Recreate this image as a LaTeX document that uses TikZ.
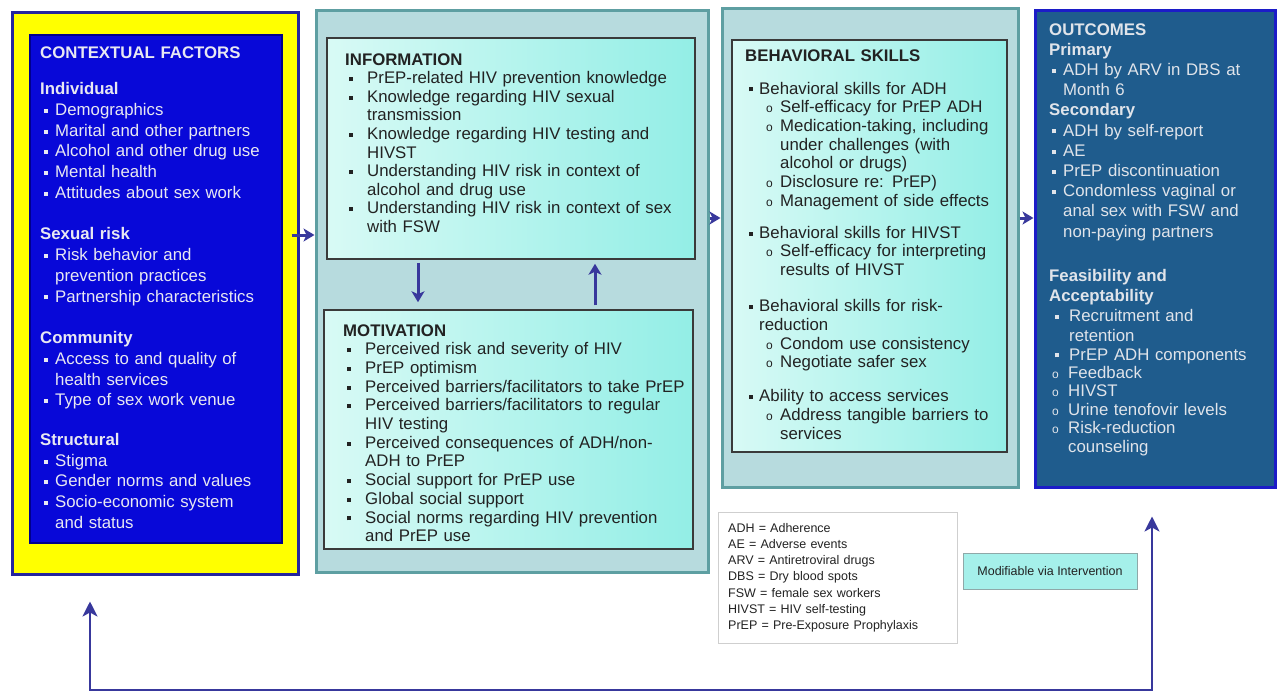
\documentclass[tikz,border=0pt]{standalone}
\usepackage{fontspec}
\setmainfont{Liberation Sans}
\usetikzlibrary{arrows.meta}
\definecolor{ybox}{HTML}{FFFF00}
\definecolor{navy}{HTML}{24249E}
\definecolor{navyin}{HTML}{00008C}
\definecolor{bluein}{HTML}{0808D8}
\definecolor{panel}{HTML}{B7DBDE}
\definecolor{panelb}{HTML}{5E9FA2}
\definecolor{cyanL}{HTML}{D8FAF5}
\definecolor{cyanR}{HTML}{93EEE6}
\definecolor{innerb}{HTML}{3A3A3A}
\definecolor{outf}{HTML}{1F5C8D}
\definecolor{outb}{HTML}{1C1CC8}
\definecolor{arrc}{HTML}{38389C}
\definecolor{ltext}{HTML}{E8E8F2}
\definecolor{otext}{HTML}{E0E4EA}
\definecolor{dtext}{HTML}{222222}
\definecolor{legb}{HTML}{CFCFCF}
\definecolor{modf}{HTML}{A5F0EA}
\definecolor{modb}{HTML}{8FA8A8}
\newcommand{\sqb}{\raisebox{2.6pt}{\rule{4pt}{4pt}}}
\newcommand{\cib}{{\fontsize{12}{12}\selectfont o}}
\newcommand{\li}[4]{\par\hangindent=#2\hangafter=1\noindent\makebox[#2][l]{\hspace*{#1}#3}\ignorespaces#4}
\newcommand{\hd}[1]{\par\noindent\textbf{#1}}
\newcommand{\gp}[1]{\par\vspace{#1}}
\tikzset{
  box/.style={rectangle, inner sep=0pt},
  ctxout/.style={box, draw=navy, line width=3pt, fill=ybox},
  ctxin/.style={box, draw=navyin, line width=1.2pt, fill=bluein},
  panelbox/.style={box, draw=panelb, line width=3pt, fill=panel},
  innerbox/.style={box, draw=innerb, line width=1.5pt, left color=cyanL, right color=cyanR},
  outbox/.style={box, draw=outb, line width=3pt, fill=outf},
  legbox/.style={box, draw=legb, line width=0.8pt, fill=white},
  modbox/.style={box, draw=modb, line width=1pt, fill=modf},
  txt/.style={anchor=base west, inner sep=0pt, text width=420pt, align=left},
  arr/.style={draw=arrc, line width=3pt, -{Stealth[length=11pt,width=13pt,inset=3pt]}},
  fb/.style={draw=arrc, line width=2.5pt, {Stealth[length=15pt,width=15pt,inset=4pt]}-{Stealth[length=15pt,width=15pt,inset=4pt]}}
}
\begin{document}
\begin{tikzpicture}[x=1pt,y=-1pt]
\useasboundingbox[fill=white] (0,0) rectangle (1278,694);
% boxes
\node[ctxout, minimum width=286pt, minimum height=562pt] (ctx) at (155,293) {};
\node[ctxin, minimum width=252pt, minimum height=508pt] (ctxi) at (156,289) {};
\node[panelbox, minimum width=392pt, minimum height=562pt] (mid) at (512,291) {};
\node[innerbox, minimum width=368pt, minimum height=221pt] (info) at (511,148.5) {};
\node[innerbox, minimum width=369pt, minimum height=239pt] (moti) at (508.5,429.5) {};
\node[panelbox, minimum width=296pt, minimum height=479pt] (beh) at (870,247.5) {};
\node[innerbox, minimum width=275pt, minimum height=412pt] (behi) at (869.5,246) {};
\node[outbox, minimum width=240pt, minimum height=477pt] (out) at (1155,248.5) {};
\node[legbox, minimum width=239pt, minimum height=131pt] (leg) at (837.5,577.5) {};
\node[modbox, minimum width=174pt, minimum height=36pt, text=dtext, font=\fontsize{12.5}{14}\selectfont] (mod) at (1050,571) {Modifiable via Intervention};

% texts
\node[txt, text=ltext, font=\fontsize{16.8}{20.7}\selectfont] (ctxt) at (40,58) {%
\textbf{CONTEXTUAL FACTORS}\gp{16pt}
\hd{Individual}
\li{4pt}{15pt}{\sqb}{Demographics}
\li{4pt}{15pt}{\sqb}{Marital and other partners}
\li{4pt}{15pt}{\sqb}{Alcohol and other drug use}
\li{4pt}{15pt}{\sqb}{Mental health}
\li{4pt}{15pt}{\sqb}{Attitudes about sex work}\gp{21pt}
\hd{Sexual risk}
\li{4pt}{15pt}{\sqb}{Risk behavior and\newline prevention practices}
\li{4pt}{15pt}{\sqb}{Partnership characteristics}\gp{21pt}
\hd{Community}
\li{4pt}{15pt}{\sqb}{Access to and quality of\newline health services}
\li{4pt}{15pt}{\sqb}{Type of sex work venue}\gp{19pt}
\hd{Structural}
\li{4pt}{15pt}{\sqb}{Stigma}
\li{4pt}{15pt}{\sqb}{Gender norms and values}
\li{4pt}{15pt}{\sqb}{Socio-economic system\newline and status}\par};

\node[txt, text=dtext, font=\fontsize{16.8}{18.6}\selectfont] (infot) at (345,65) {%
\textbf{INFORMATION}
\li{4pt}{22pt}{\sqb}{PrEP-related HIV prevention knowledge}
\li{4pt}{22pt}{\sqb}{Knowledge regarding HIV sexual\newline transmission}
\li{4pt}{22pt}{\sqb}{Knowledge regarding HIV testing and\newline HIVST}
\li{4pt}{22pt}{\sqb}{Understanding HIV risk in context of\newline alcohol and drug use}
\li{4pt}{22pt}{\sqb}{Understanding HIV risk in context of sex\newline with FSW}\par};

\node[txt, text=dtext, font=\fontsize{16.8}{18.7}\selectfont] (motit) at (343,336) {%
\textbf{MOTIVATION}
\li{4pt}{22pt}{\sqb}{Perceived risk and severity of HIV}
\li{4pt}{22pt}{\sqb}{PrEP optimism}
\li{4pt}{22pt}{\sqb}{Perceived barriers/facilitators to take PrEP}
\li{4pt}{22pt}{\sqb}{Perceived barriers/facilitators to regular\newline HIV testing}
\li{4pt}{22pt}{\sqb}{Perceived consequences of ADH/non-\newline ADH to PrEP}
\li{4pt}{22pt}{\sqb}{Social support for PrEP use}
\li{4pt}{22pt}{\sqb}{Global social support}
\li{4pt}{22pt}{\sqb}{Social norms regarding HIV prevention\newline and PrEP use}\par};

\node[txt, text=dtext, font=\fontsize{16.8}{18.7}\selectfont] (beht) at (745,61) {%
\textbf{BEHAVIORAL SKILLS}\gp{14.3pt}
\li{4pt}{14pt}{\sqb}{Behavioral skills for ADH}
\li{21pt}{35pt}{\cib}{Self-efficacy for PrEP ADH}
\li{21pt}{35pt}{\cib}{Medication-taking, including\newline under challenges (with\newline alcohol or drugs)}
\li{21pt}{35pt}{\cib}{Disclosure re: PrEP)}
\li{21pt}{35pt}{\cib}{Management of side effects}\gp{13.3pt}
\li{4pt}{14pt}{\sqb}{Behavioral skills for HIVST}
\li{21pt}{35pt}{\cib}{Self-efficacy for interpreting\newline results of HIVST}\gp{17.3pt}
\li{4pt}{14pt}{\sqb}{Behavioral skills for risk-\newline reduction}
\li{21pt}{35pt}{\cib}{Condom use consistency}
\li{21pt}{35pt}{\cib}{Negotiate safer sex}\gp{15.3pt}
\li{4pt}{14pt}{\sqb}{Ability to access services}
\li{21pt}{35pt}{\cib}{Address tangible barriers to\newline services}\par};

\node[txt, text=otext, font=\fontsize{16.8}{20.2}\selectfont] (outt) at (1049,35) {%
\textbf{OUTCOMES}
\hd{Primary}
\li{3pt}{14pt}{\sqb}{ADH by ARV in DBS at\newline Month 6}
\hd{Secondary}
\li{3pt}{14pt}{\sqb}{ADH by self-report}
\li{3pt}{14pt}{\sqb}{AE}
\li{3pt}{14pt}{\sqb}{PrEP discontinuation}
\li{3pt}{14pt}{\sqb}{Condomless vaginal or\newline anal sex with FSW and\newline non-paying partners}\gp{23.8pt}
\hd{Feasibility and}
\hd{Acceptability}
\li{6pt}{20pt}{\sqb}{Recruitment and\newline retention}
\li{6pt}{20pt}{\sqb}{PrEP ADH components}
\fontsize{16.8}{18.4}\selectfont
\li{3pt}{19pt}{\cib}{Feedback}
\li{3pt}{19pt}{\cib}{HIVST}
\li{3pt}{19pt}{\cib}{Urine tenofovir levels}
\li{3pt}{19pt}{\cib}{Risk-reduction\newline counseling}\par};

\node[txt, text=dtext, font=\fontsize{12.5}{16.3}\selectfont] (legt) at (728,532) {%
ADH = Adherence\par
AE = Adverse events\par
ARV = Antiretroviral drugs\par
DBS = Dry blood spots\par
FSW = female sex workers\par
HIVST = HIV self-testing\par
PrEP = Pre-Exposure Prophylaxis\par};

% connectors
\coordinate (y235) at (0,235);
\coordinate (y218) at (0,218);
\coordinate (xD) at (418,0);
\coordinate (xU) at (595,0);
\coordinate (xL) at (90,0);
\coordinate (xR) at (1152,0);
\coordinate (yB) at (0,690);
\draw[arr, shorten <=-8pt] (ctx.east |- y235) -- (mid.west |- y235);
\draw[arr] (mid.east |- y218) -- (beh.west |- y218);
\draw[arr] (beh.east |- y218) -- (out.west |- y218);
\draw[arr, shorten <=3pt, shorten >=7pt] (info.south -| xD) -- (moti.north -| xD);
\draw[arr, shorten <=4pt, shorten >=4pt] (moti.north -| xU) -- (info.south -| xU);
\draw[fb, shorten <=26pt, shorten >=28pt] (ctx.south -| xL) -- (yB -| xL) -- (yB -| xR) -- (out.south -| xR);
\end{tikzpicture}
\end{document}
